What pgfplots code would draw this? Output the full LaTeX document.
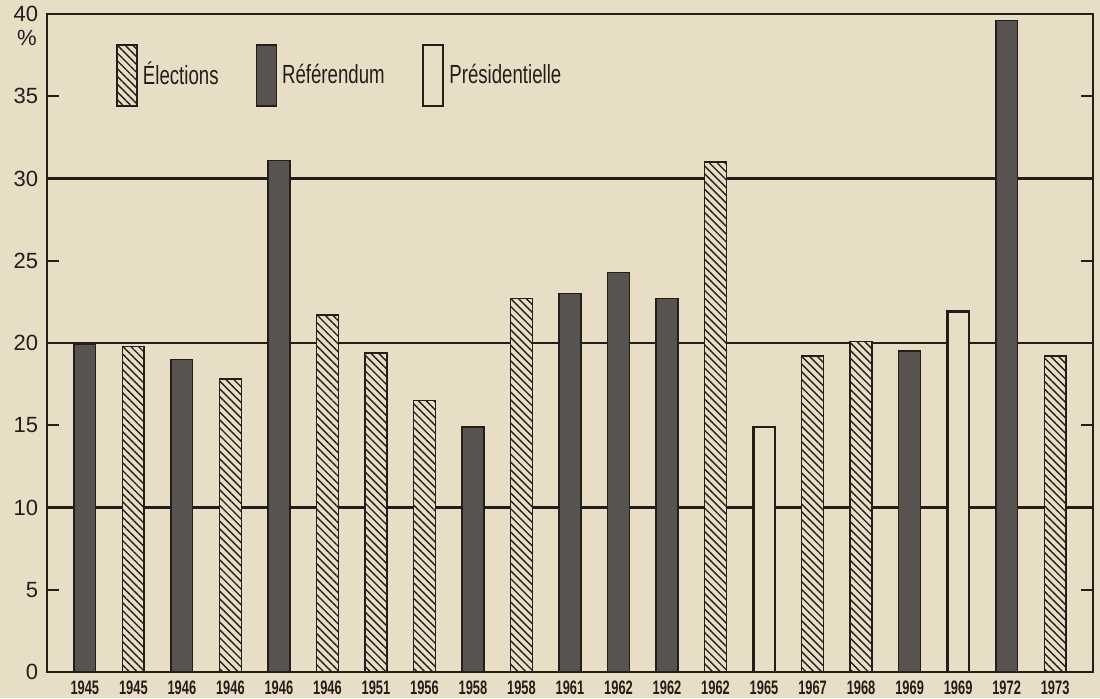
\documentclass[border=0pt]{standalone}
\usepackage{pgfplots}
\pgfplotsset{compat=1.18}
\usetikzlibrary{patterns.meta}
\usepackage{fontspec}
\setmainfont{Liberation Sans}
\newfontfamily\condfont[FakeStretch=0.71]{Liberation Sans}
\newfontfamily\yrfont[FakeStretch=0.66]{Liberation Sans}
\definecolor{bg}{RGB}{232,222,197}
\definecolor{ink}{RGB}{35,30,26}
\definecolor{refc}{RGB}{88,83,78}
\pagecolor{bg}
\pgfplotsset{tallleg/.style={legend image code/.code={\draw[##1] (0pt,-12.2pt) rectangle (8pt,12.2pt);}}}
\begin{document}
\begin{tikzpicture}
\useasboundingbox (-18.8pt,-10.4pt) rectangle (421.2pt,268.8pt);
\begin{axis}[
  scale only axis, width=418.4pt, height=263.2pt,
  xmin=-0.78, xmax=20.78, ymin=0, ymax=40,
  ybar, bar width=8.7pt, bar shift=0pt,
  axis line style={ink, line width=0.9pt},
  xtick={0,...,20},
  xticklabels={1945,1945,1946,1946,1946,1946,1951,1956,1958,1958,1961,1962,1962,1962,1965,1967,1968,1969,1969,1972,1973},
  xticklabel style={font=\yrfont\bfseries\fontsize{7.8}{8}\selectfont, text=ink},
  x tick style={draw=none},
  ytick={0,5,...,40},
  ytick pos=both, yticklabel pos=left,
  tick align=inside, major tick length=4.8pt,
  y tick style={ink, line width=0.9pt},
  yticklabel style={font=\fontsize{8.8}{10}\selectfont, text=ink},
  /pgf/number format/assume math mode=true,
  extra y ticks={10,20,30}, extra y tick labels={},
  extra y tick style={grid=major},
  major grid style={ink, line width=0.9pt},
  legend columns=3,
  legend style={at={(0,1)}, anchor=north west, xshift=27.6pt, yshift=-11.6pt,
    draw=none, fill=none, inner sep=0pt,
    font=\condfont\fontsize{10.5}{12}\selectfont, text=ink,
    /tikz/every even column/.append style={column sep=12.8pt}},
]
\addplot[fill=bg, draw=ink, line width=0.6pt,
  postaction={pattern={Lines[angle=-45,distance=2.2pt,line width=0.55pt]}, pattern color=ink}, tallleg]
  coordinates {(1,19.8)(3,17.8)(5,21.7)(6,19.4)(7,16.5)(9,22.7)(13,31.0)(15,19.2)(16,20.1)(20,19.2)};
\addlegendentry{Élections}
\addplot[fill=refc, draw=ink, line width=0.6pt, tallleg]
  coordinates {(0,19.9)(2,19.0)(4,31.1)(8,14.9)(10,23.0)(11,24.3)(12,22.7)(17,19.5)(19,39.6)};
\addlegendentry{Référendum}
\addplot[fill=bg, draw=ink, line width=1.1pt, tallleg]
  coordinates {(14,14.9)(18,21.9)};
\addlegendentry{Présidentielle}
\end{axis}
\node[font=\fontsize{8.8}{10}\selectfont, text=ink] at (-8pt,253.6pt) {\%};
\end{tikzpicture}
\end{document}
